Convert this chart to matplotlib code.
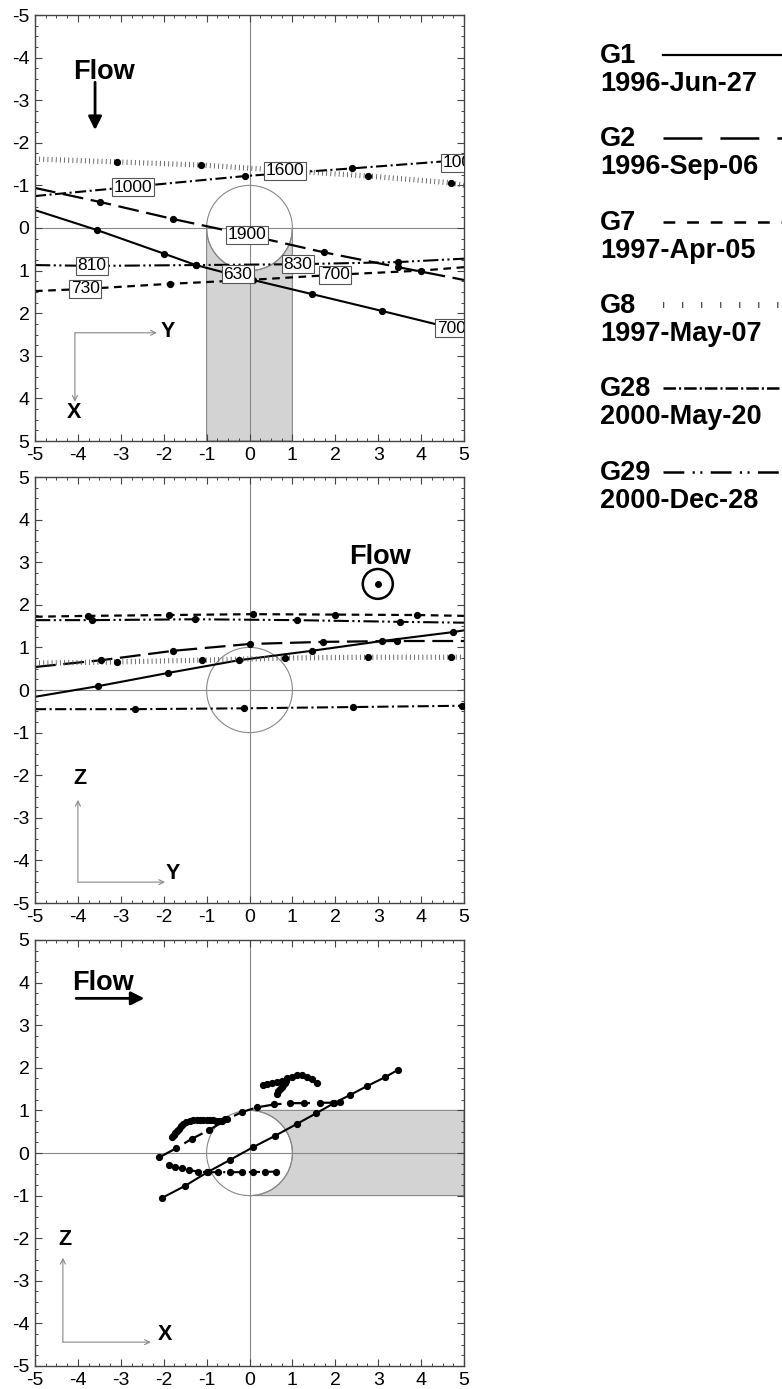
import numpy as np
import matplotlib
matplotlib.use("Agg")
import matplotlib.pyplot as plt
from matplotlib.patches import Circle, Polygon
from matplotlib.ticker import MultipleLocator

plt.rcParams["font.family"] = ["Liberation Sans", "DejaVu Sans"]
plt.rcParams["axes.unicode_minus"] = False
plt.rcParams["lines.scale_dashes"] = False

# ---------------------------------------------------------------
# values
# ---------------------------------------------------------------
series = ["G1", "G2", "G7", "G8", "G28", "G29"]
dates = ["1996-Jun-27", "1996-Sep-06", "1997-Apr-05",
         "1997-May-07", "2000-May-20", "2000-Dec-28"]

# top panel: Y (horizontal) against X (vertical, downwards)
top_g1_y = [-5.0, -3.55, -2.0, -1.25, 0.08, 1.45, 3.1, 5.0]
top_g1_x = [-0.42, 0.05, 0.6, 0.87, 1.22, 1.55, 1.95, 2.42]
top_g2_y = [-5.0, -3.48, -1.78, -0.06, 1.73, 3.47, 5.0]
top_g2_x = [-0.94, -0.61, -0.21, 0.16, 0.57, 0.92, 1.22]
top_g7_y = [-5.0, -3.83, -1.85, 0.0, 1.95, 4.0, 5.0]
top_g7_x = [1.48, 1.43, 1.31, 1.22, 1.1, 1.0, 0.92]
top_g8_y = [-5.0, -3.1, -1.13, 0.8, 2.77, 4.7, 5.0]
top_g8_x = [-1.62, -1.55, -1.48, -1.35, -1.22, -1.06, -1.0]
top_g28_y = [-5.0, -2.7, -0.1, 2.4, 5.0]
top_g28_x = [-0.75, -0.97, -1.22, -1.4, -1.6]
top_g29_y = [-5.0, -3.67, -1.25, 1.13, 3.47, 5.0]
top_g29_x = [0.87, 0.89, 0.87, 0.85, 0.8, 0.72]

top_label_text = ["1000", "1600", "1000", "1900", "810", "630", "830", "700", "730", "700"]
top_label_y = [-2.72, 0.83, 4.5, -0.06, -3.67, -0.27, 1.13, 2.0, -3.83, 4.37]
top_label_x = [-0.96, -1.34, -1.53, 0.16, 0.89, 1.08, 0.85, 1.1, 1.43, 2.35]

# middle panel: Y (horizontal) against Z (vertical)
mid_g1_y = [-5.0, -3.53, -1.9, -0.24, 1.45, 3.09, 4.75, 5.0]
mid_g1_z = [-0.16, 0.09, 0.4, 0.7, 0.92, 1.15, 1.36, 1.4]
mid_g2_y = [-5.0, -3.45, -1.78, 0.0, 1.72, 3.43, 5.0]
mid_g2_z = [0.54, 0.7, 0.92, 1.08, 1.13, 1.15, 1.15]
mid_g7_y = [-5.0, -3.77, -1.87, 0.08, 2.0, 3.9, 5.0]
mid_g7_z = [1.72, 1.74, 1.76, 1.78, 1.77, 1.76, 1.74]
mid_g8_y = [-5.0, -3.1, -1.1, 0.83, 2.77, 4.7, 5.0]
mid_g8_z = [0.63, 0.66, 0.7, 0.75, 0.77, 0.77, 0.77]
mid_g28_y = [-5.0, -2.67, -0.13, 2.41, 4.95, 5.0]
mid_g28_z = [-0.45, -0.45, -0.43, -0.40, -0.37, -0.37]
mid_g29_y = [-5.0, -3.67, -1.27, 1.1, 3.5, 5.0]
mid_g29_z = [1.64, 1.64, 1.66, 1.64, 1.6, 1.58]

# bottom panel: X (horizontal) against Z (vertical)
bot_g1_x = [-2.05, -1.5, -0.98, -0.45, 0.07, 0.59, 1.1, 1.55, 1.97, 2.34, 2.74, 3.16, 3.46]
bot_g1_z = [-1.06, -0.77, -0.45, -0.16, 0.13, 0.40, 0.68, 0.93, 1.17, 1.36, 1.57, 1.78, 1.95]
bot_g2_x = [-2.1, -1.71, -1.35, -0.94, -0.53, -0.18, 0.17, 0.57, 0.94, 1.27, 1.64, 1.95, 2.1]
bot_g2_z = [-0.1, 0.11, 0.33, 0.54, 0.79, 0.96, 1.07, 1.14, 1.17, 1.17, 1.18, 1.18, 1.2]
bot_g7_x = [0.31, 0.41, 0.52, 0.63, 0.75, 0.87, 0.98, 1.1, 1.22, 1.33, 1.45, 1.57]
bot_g7_z = [1.60, 1.62, 1.64, 1.67, 1.70, 1.75, 1.79, 1.82, 1.82, 1.79, 1.73, 1.64]
bot_g8_x = [-1.81, -1.77, -1.73, -1.69, -1.65, -1.6, -1.54, -1.47, -1.39, -1.31, -1.23,
            -1.15, -1.08, -1.0, -0.92, -0.84, -0.77, -0.7, -0.63, -0.56]
bot_g8_z = [0.38, 0.42, 0.47, 0.52, 0.57, 0.63, 0.68, 0.73, 0.76, 0.78, 0.78,
            0.78, 0.78, 0.78, 0.78, 0.77, 0.76, 0.75, 0.76, 0.8]
bot_g28_x = [-1.87, -1.74, -1.58, -1.40, -1.19, -0.96, -0.73, -0.45, -0.18, 0.09, 0.36, 0.62]
bot_g28_z = [-0.28, -0.34, -0.36, -0.40, -0.44, -0.45, -0.45, -0.45, -0.45, -0.45, -0.44, -0.44]
bot_g29_x = [0.63, 0.67, 0.71, 0.75, 0.79, 0.83, 0.86]
bot_g29_z = [1.39, 1.45, 1.5, 1.55, 1.6, 1.65, 1.7]

# ---------------------------------------------------------------
# line styles (dash lengths in points)
# ---------------------------------------------------------------
plot_style = {
    "G1": dict(ls="-", lw=1.5),
    "G2": dict(ls=(0, (15, 5.5)), lw=1.6),
    "G7": dict(ls=(0, (5.5, 4)), lw=1.6),
    "G8": dict(ls=(0, (0.6, 2.4)), lw=3.8, color="#555555"),
    "G28": dict(ls=(0, (8, 2.5, 1.5, 2.5)), lw=1.5),
    "G29": dict(ls=(0, (11, 2.5, 1.5, 2.5, 1.5, 2.5)), lw=1.5),
}
legend_style = {
    "G1": dict(ls="-", lw=1.6),
    "G2": dict(ls=(0, (28, 13)), lw=1.8),
    "G7": dict(ls=(0, (8.5, 8.5)), lw=1.8),
    "G8": dict(ls=(0, (0.9, 12.8)), lw=4.2, color="#444444"),
    "G28": dict(ls=(0, (9, 2.2, 1.5, 2.2)), lw=1.8),
    "G29": dict(ls=(0, (15, 6, 1.5, 4, 1.5, 6)), lw=1.8),
}

GREY = "#888888"
SHADE = "#d3d3d3"


def setup_axes(ax, invert=False):
    ax.set_xlim(-5, 5)
    if invert:
        ax.set_ylim(5, -5)
    else:
        ax.set_ylim(-5, 5)
    ax.set_xticks(np.arange(-5, 6, 1))
    ax.set_yticks(np.arange(-5, 6, 1))
    ax.xaxis.set_minor_locator(MultipleLocator(0.25))
    ax.yaxis.set_minor_locator(MultipleLocator(0.25))
    ax.tick_params(which="both", direction="in", top=True, right=True,
                   color="#444444", labelsize=14)
    ax.tick_params(which="major", length=5, width=0.8)
    ax.tick_params(which="minor", length=2.5, width=0.7)
    ax.tick_params(axis="x", pad=4)
    ax.tick_params(axis="y", pad=4)
    for s in ax.spines.values():
        s.set_color("#444444")
        s.set_linewidth(1.0)
    ax.axhline(0, color=GREY, lw=0.8, zorder=1)
    ax.axvline(0, color=GREY, lw=0.8, zorder=1)
    ax.add_patch(Circle((0, 0), 1, fill=False, ec=GREY, lw=0.8, zorder=1.2))


def draw_series(ax, name, xs, ys, all_markers=False):
    st = dict(plot_style[name])
    color = st.pop("color", "black")
    ax.plot(xs, ys, color=color, dash_capstyle="butt", zorder=2, **st)
    mx, my = (xs, ys) if all_markers else (xs[1:-1], ys[1:-1])
    ax.plot(mx, my, ls="none", marker="o", ms=4.2, color="black", zorder=3)


def axis_indicator(ax, corner, h_end, v_end, h_label, v_label, h_pos, v_pos):
    ap = dict(arrowstyle="->", color=GREY, lw=0.8, mutation_scale=9,
              shrinkA=0, shrinkB=0)
    ax.annotate("", xy=(h_end, corner[1]), xytext=corner, arrowprops=ap)
    ax.annotate("", xy=(corner[0], v_end), xytext=corner, arrowprops=ap)
    ax.text(*h_pos, h_label, fontsize=15.5, weight="bold", ha="center", va="center")
    ax.text(*v_pos, v_label, fontsize=15.5, weight="bold", ha="center", va="center")


def flow_arrow(ax, start, end):
    ax.annotate("", xy=end, xytext=start,
                arrowprops=dict(arrowstyle="-|>", color="black", lw=2.0,
                                mutation_scale=20, shrinkA=0, shrinkB=0))


fig = plt.figure(figsize=(7.82, 13.89), dpi=100)
W, H = 782.0, 1389.0


def panel(top_px):
    return fig.add_axes([35 / W, 1 - (top_px + 426) / H, 429 / W, 426 / H])


# ---------------- top panel ----------------
ax1 = panel(15)
setup_axes(ax1, invert=True)
t = np.linspace(np.pi, 0, 60)
band = [(-1, 5), (-1, 0)] + list(zip(np.cos(t), np.sin(t))) + [(1, 0), (1, 5)]
ax1.add_patch(Polygon(band, closed=True, fc=SHADE, ec=GREY, lw=0.8, zorder=0.5))

draw_series(ax1, "G1", top_g1_y, top_g1_x)
draw_series(ax1, "G2", top_g2_y, top_g2_x)
draw_series(ax1, "G7", top_g7_y, top_g7_x)
draw_series(ax1, "G8", top_g8_y, top_g8_x)
draw_series(ax1, "G28", top_g28_y, top_g28_x)
draw_series(ax1, "G29", top_g29_y, top_g29_x)

for txt, yy, xx in zip(top_label_text, top_label_y, top_label_x):
    ax1.text(yy, xx, txt, fontsize=12.5, ha="left" if yy > 4 else "center",
             va="center", zorder=5, clip_on=True,
             bbox=dict(boxstyle="square,pad=0.1", fc="white", ec="#555555", lw=0.8))

ax1.text(-3.4, -3.66, "Flow", fontsize=19.5, weight="bold", ha="center", va="center")
flow_arrow(ax1, (-3.6, -3.42), (-3.6, -2.3))
axis_indicator(ax1, (-4.07, 2.46), -2.16, 4.08, "Y", "X", (-1.9, 2.42), (-4.1, 4.32))

# ---------------- middle panel ----------------
ax2 = panel(477)
setup_axes(ax2)
draw_series(ax2, "G1", mid_g1_y, mid_g1_z)
draw_series(ax2, "G2", mid_g2_y, mid_g2_z)
draw_series(ax2, "G7", mid_g7_y, mid_g7_z)
draw_series(ax2, "G8", mid_g8_y, mid_g8_z)
draw_series(ax2, "G28", mid_g28_y, mid_g28_z)
draw_series(ax2, "G29", mid_g29_y, mid_g29_z)

ax2.text(3.04, 3.12, "Flow", fontsize=19.5, weight="bold", ha="center", va="center")
ax2.add_patch(Circle((2.99, 2.49), 0.35, fill=False, ec="black", lw=1.8, zorder=3))
ax2.plot([2.99], [2.49], marker="o", ms=4, color="black")
axis_indicator(ax2, (-4.0, -4.51), -1.97, -2.58, "Y", "Z", (-1.78, -4.3), (-3.95, -2.07))

# ---------------- bottom panel ----------------
ax3 = panel(940)
setup_axes(ax3)
t = np.linspace(np.pi / 2, -np.pi / 2, 60)
band = [(5, 1), (0, 1)] + list(zip(np.cos(t), np.sin(t))) + [(0, -1), (5, -1)]
ax3.add_patch(Polygon(band, closed=True, fc=SHADE, ec=GREY, lw=0.8, zorder=0.5))

draw_series(ax3, "G1", bot_g1_x, bot_g1_z, all_markers=True)
draw_series(ax3, "G2", bot_g2_x, bot_g2_z, all_markers=True)
draw_series(ax3, "G7", bot_g7_x, bot_g7_z, all_markers=True)
draw_series(ax3, "G8", bot_g8_x, bot_g8_z, all_markers=True)
draw_series(ax3, "G28", bot_g28_x, bot_g28_z, all_markers=True)
draw_series(ax3, "G29", bot_g29_x, bot_g29_z, all_markers=True)

ax3.text(-3.41, 3.99, "Flow", fontsize=19.5, weight="bold", ha="center", va="center")
flow_arrow(ax3, (-4.04, 3.63), (-2.45, 3.63))
axis_indicator(ax3, (-4.35, -4.44), -2.3, -2.46, "X", "Z", (-1.97, -4.27), (-4.3, -2.04))

# ---------------- legend ----------------
axl = fig.add_axes([480 / W, 1 - 520 / H, 302 / W, 520 / H])
axl.set_xlim(480, 782)
axl.set_ylim(520, 0)
axl.axis("off")
for i, (name, date) in enumerate(zip(series, dates)):
    base = 63 + i * 83.3
    axl.text(600, base, name, fontsize=19.5, weight="bold", ha="left", va="baseline")
    axl.text(600, base + 28, date, fontsize=19.5, weight="bold", ha="left", va="baseline")
    st = dict(legend_style[name])
    color = st.pop("color", "black")
    axl.plot([663, 800], [base - 8, base - 8], color=color, dash_capstyle="butt",
             clip_on=False, **st)

fig.savefig("out.png", dpi=100)
plt.close(fig)
